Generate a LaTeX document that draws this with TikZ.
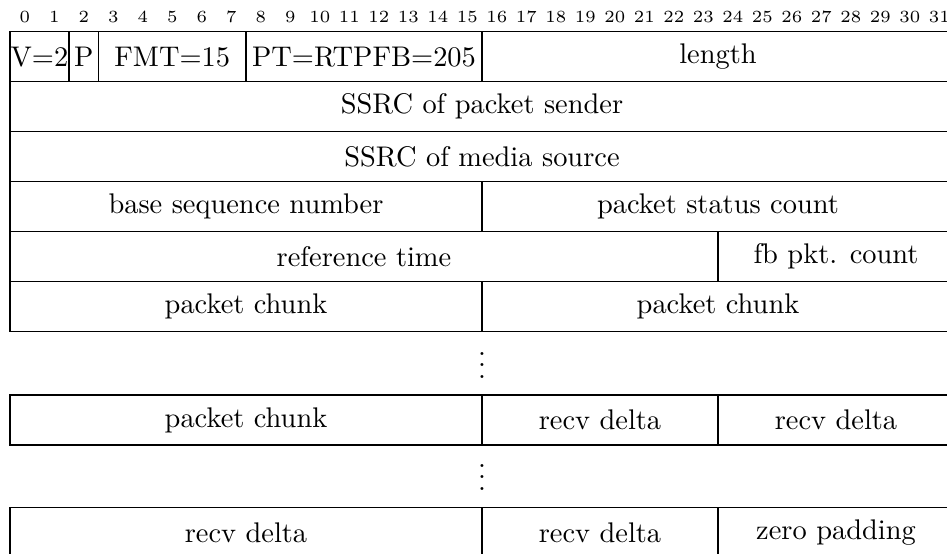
\documentclass[tikz,border=0pt]{standalone}
\begin{document}
\begin{tikzpicture}[x=10.384pt,y=-17.6pt,
  field/.style={draw, line width=0.4pt, inner sep=0pt, minimum height=17.6pt},
  bitnum/.style={font=\fontsize{6}{7}\selectfont, inner sep=0pt},
  dots/.style={inner sep=0pt}]
\useasboundingbox (-0.339,-0.634) rectangle (31.763,10.446);
\clip (-0.339,-0.634) rectangle (31.763,10.446);
% bit numbers
\foreach \i in {0,...,31} {
  \node[bitnum] (b\i) at (\i+0.5,-0.294) {\i};
}
% row 1
\node[field, minimum width=2*10.384pt] (v) at (1,0.5) {V=2};
\node[field, minimum width=1*10.384pt] (p) at (2.5,0.5) {P};
\node[field, minimum width=5*10.384pt] (fmt) at (5.5,0.5) {FMT=15};
\node[field, minimum width=8*10.384pt] (pt) at (12,0.5) {PT=RTPFB=205};
\node[field, minimum width=16*10.384pt] (len) at (24,0.5) {length};
% row 2-3
\node[field, minimum width=32*10.384pt] (ssrcs) at (16,1.5) {SSRC of packet sender};
\node[field, minimum width=32*10.384pt] (ssrcm) at (16,2.5) {SSRC of media source};
% row 4
\node[field, minimum width=16*10.384pt] (bsn) at (8,3.5) {base sequence number};
\node[field, minimum width=16*10.384pt] (psc) at (24,3.5) {packet status count};
% row 5
\node[field, minimum width=24*10.384pt] (rt) at (12,4.5) {reference time};
\node[field, minimum width=8*10.384pt] (fb) at (28,4.5) {fb pkt. count};
% row 6
\node[field, minimum width=16*10.384pt] (pc1) at (8,5.5) {packet chunk};
\node[field, minimum width=16*10.384pt] (pc2) at (24,5.5) {packet chunk};
% dots
\node[dots] (d1) at (16,6.502) {$\vdots$};
% row 7
\node[field, minimum width=16*10.384pt] (pc3) at (8,7.766) {packet chunk};
\node[field, minimum width=8*10.384pt] (rd1) at (20,7.766) {recv delta};
\node[field, minimum width=8*10.384pt] (rd2) at (28,7.766) {recv delta};
% dots
\node[dots] (d2) at (16,8.742) {$\vdots$};
% row 8
\node[field, minimum width=16*10.384pt] (rd3) at (8,10.016) {recv delta};
\node[field, minimum width=8*10.384pt] (rd4) at (20,10.016) {recv delta};
\node[field, minimum width=8*10.384pt] (zp) at (28,10.016) {zero padding};
\end{tikzpicture}
\end{document}
